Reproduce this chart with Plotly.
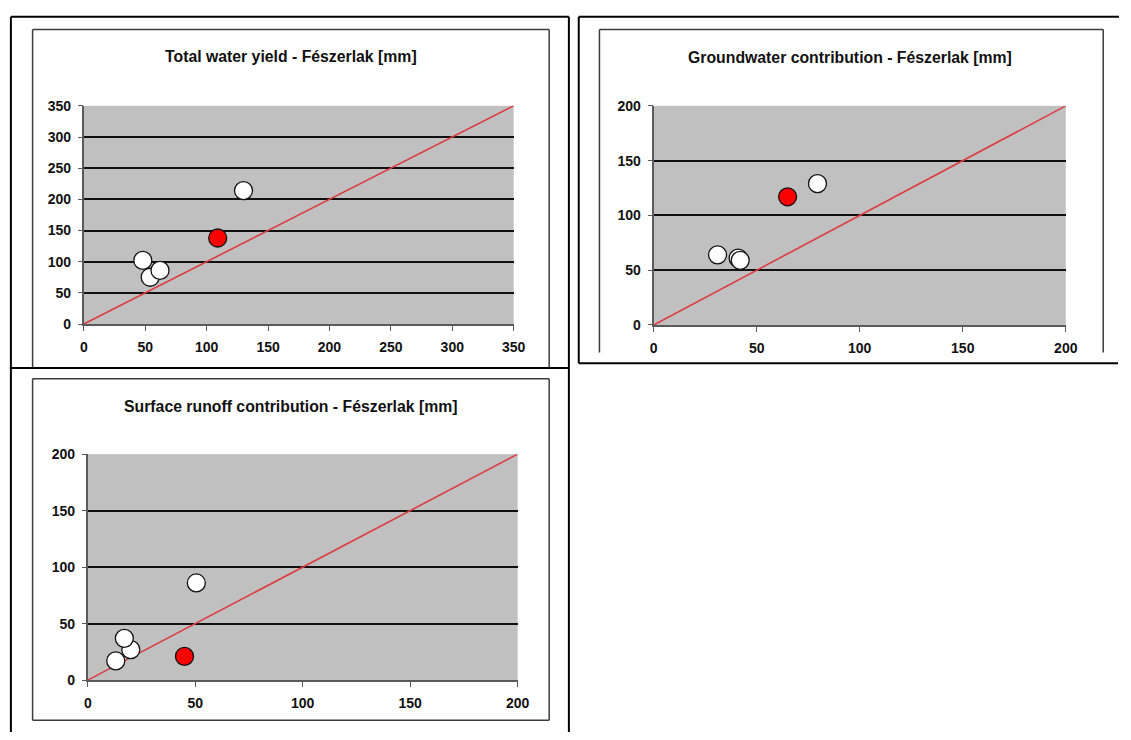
import plotly.graph_objects as go

W, H = 1131, 740

# ---------------- data ----------------
titles = [
    "Total water yield - Fészerlak [mm]",
    "Groundwater contribution - Fészerlak [mm]",
    "Surface runoff contribution - Fészerlak [mm]",
]
axis_max = [350, 200, 200]
tick_step = 50

tw_white_x = [54, 48, 62, 130]
tw_white_y = [75, 102, 86, 214]
tw_red_x = [109]
tw_red_y = [138]

gw_white_x = [31, 41, 42, 79.5]
gw_white_y = [64, 61, 59, 129]
gw_red_x = [65]
gw_red_y = [117]

sr_white_x = [20, 17, 13, 50.5]
sr_white_y = [27, 37, 17, 86]
sr_red_x = [45]
sr_red_y = [21]

white_x = [tw_white_x, gw_white_x, sr_white_x]
white_y = [tw_white_y, gw_white_y, sr_white_y]
red_x = [tw_red_x, gw_red_x, sr_red_x]
red_y = [tw_red_y, gw_red_y, sr_red_y]

# ---------------- layout geometry (pixels) ----------------
plot_boxes = [  # left, right, top, bottom
    (81, 517, 100, 323),
    (659, 1077, 100, 324),
    (85, 521, 456, 687),
]
title_pos = [(291, 50), (858, 51), (291, 407)]


def px(x):
    return x / W


def py(y):
    return 1 - y / H


FONT = "Liberation Sans, Arial, sans-serif"
AXCOL = "#5a5a5a"
MSIZE = 18

fig = go.Figure()
layout = dict(
    width=W, height=H, autosize=False,
    margin=dict(l=0, r=0, t=0, b=0, pad=0),
    paper_bgcolor="white",
    plot_bgcolor="#c0c0c0",
    showlegend=False,
    font=dict(family=FONT, color="#111111"),
)

annotations = []
for i in range(3):
    n = "" if i == 0 else str(i + 1)
    xa, ya, yo = f"x{n}", f"y{n}", f"y{i + 4}"
    l, r, t, b = plot_boxes[i]
    m = axis_max[i]
    ticks = list(range(0, m + 1, tick_step))
    grid = ticks[1:-1]

    fig.add_trace(go.Scatter(
        x=[0, m], y=[0, m], mode="lines",
        line=dict(color="#dc3c40", width=1.6),
        xaxis=xa, yaxis=ya, hoverinfo="skip"))
    fig.add_trace(go.Scatter(
        x=white_x[i], y=white_y[i], mode="markers",
        marker=dict(symbol="circle", size=MSIZE, color="white",
                    line=dict(color="#111111", width=1.3)),
        xaxis=xa, yaxis=ya))
    fig.add_trace(go.Scatter(
        x=red_x[i], y=red_y[i], mode="markers",
        marker=dict(symbol="circle", size=MSIZE, color="#ff0000",
                    line=dict(color="#111111", width=1.3)),
        xaxis=xa, yaxis=ya))
    fig.add_trace(go.Scatter(x=[None], y=[None], mode="markers",
                             xaxis=xa, yaxis=yo, hoverinfo="skip"))

    layout[f"xaxis{n}"] = dict(
        domain=[px(l), px(r)], anchor=ya, range=[0, m],
        tickvals=ticks, showgrid=False, zeroline=False,
        showline=True, linecolor=AXCOL, linewidth=1.5,
        ticks="outside", ticklen=5, tickcolor=AXCOL, tickwidth=1.2,
        tickfont=dict(family=FONT, size=14, weight="bold", color="#111111"),
        ticklabelstandoff=4, fixedrange=True)
    layout[f"yaxis{n}"] = dict(
        domain=[py(b), py(t)], anchor=xa, range=[0, m],
        tickvals=grid, showgrid=True, gridcolor="#111111", gridwidth=1.5,
        showticklabels=False, ticks="", zeroline=False,
        showline=True, linecolor=AXCOL, linewidth=1.5, fixedrange=True)
    layout[f"yaxis{i + 4}"] = dict(
        overlaying=ya, anchor=xa, side="left", range=[0, m],
        tickvals=ticks, showgrid=False, zeroline=False, showline=False,
        ticks="outside", ticklen=5, tickcolor=AXCOL, tickwidth=1.2,
        tickfont=dict(family=FONT, size=14, weight="bold", color="#111111"),
        ticklabelstandoff=4, fixedrange=True)

    tx, ty = title_pos[i]
    annotations.append(dict(
        text=titles[i], x=px(tx), y=py(ty), xref="paper", yref="paper",
        xanchor="center", yanchor="middle", showarrow=False,
        font=dict(family=FONT, size=15.8, weight="bold", color="#111111")))

shapes = []


def line(x0, y0, x1, y1, color, width):
    shapes.append(dict(type="line", xref="paper", yref="paper",
                       x0=px(x0), y0=py(y0), x1=px(x1), y1=py(y1),
                       line=dict(color=color, width=width)))


FR = "#3c3c3c"
line(29, 22, 553, 22, FR, 1.5)
line(29, 22, 29, 367, FR, 1.5)
line(553, 22, 553, 367, FR, 1.5)

line(604, 22, 1115, 22, FR, 1.5)
line(604, 22, 604, 352, FR, 1.5)
line(1115, 22, 1115, 352, FR, 1.5)

line(29, 379, 553, 379, FR, 1.5)
line(29, 379, 29, 728, FR, 1.5)
line(553, 379, 553, 728, FR, 1.5)
line(29, 728, 553, 728, FR, 1.5)

BK = "#000000"
line(7, 9, 573, 9, BK, 2)
line(7, 9, 7, 740, BK, 2)
line(573, 9, 573, 740, BK, 2)
line(7, 368, 573, 368, BK, 2)

line(583, 9, 1131, 9, BK, 2)
line(583, 9, 583, 363, BK, 2)
line(583, 363, 1130, 363, BK, 2)

layout["shapes"] = shapes
layout["annotations"] = annotations
fig.update_layout(**layout)

fig.write_html(
    "out.html",
    config={"displayModeBar": False},
    post_script=(
        "document.documentElement.style.margin='0';"
        "document.body.style.margin='0';document.body.style.padding='0';"
        "document.body.style.overflow='hidden';"
        "var g=document.getElementById('{plot_id}');"
        "g.style.position='fixed';g.style.left='0px';g.style.top='0px';"
    ),
)
